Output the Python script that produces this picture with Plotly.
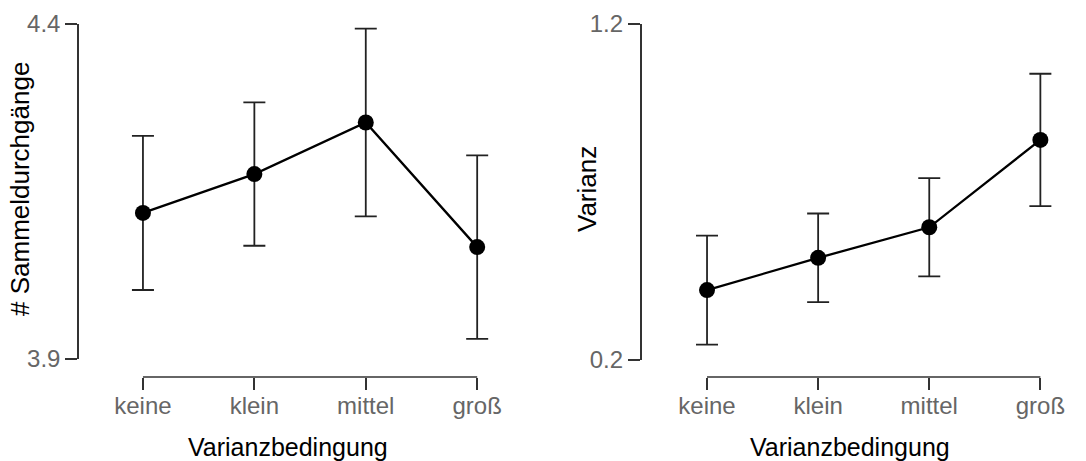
import plotly.graph_objects as go

categories = ["keine", "klein", "mittel", "groß"]
sammel_mean = [4.118, 4.176, 4.253, 4.067]
sammel_err = [0.115, 0.107, 0.140, 0.137]
varianz_mean = [0.408, 0.504, 0.595, 0.855]
varianz_err = [0.162, 0.132, 0.146, 0.197]
sammel_ticks = [3.9, 4.4]
varianz_ticks = [0.2, 1.2]
x_title = "Varianzbedingung"
y_titles = ["# Sammeldurchgänge", "Varianz"]

W, H = 1086, 461
AX = "#333333"
TICKC = "#666666"
FONT = "Liberation Sans, Arial, sans-serif"

fig = go.Figure()

panels = [
    dict(mean=sammel_mean, err=sammel_err, ticks=sammel_ticks, ytitle=y_titles[0],
         xdom=[78 / W, 510.6 / W], xr=[-0.583, 3.3], ydom=[1 - 359 / H, 1 - 24 / H],
         ytx=20, xtx=288),
    dict(mean=varianz_mean, err=varianz_err, ticks=varianz_ticks, ytitle=y_titles[1],
         xdom=[640.7 / W, 1073.7 / W], xr=[-0.597, 3.3], ydom=[1 - 360 / H, 1 - 24 / H],
         ytx=587, xtx=850),
]

xpos = 1 - 377 / H

for i, p in enumerate(panels):
    sfx = "" if i == 0 else str(i + 1)
    fig.add_trace(go.Scatter(
        x=categories, y=p["mean"], mode="lines+markers",
        xaxis="x" + sfx, yaxis="y" + sfx,
        line=dict(color="black", width=2.3),
        marker=dict(color="black", size=16),
        error_y=dict(type="data", array=p["err"], visible=True,
                     color="#222222", thickness=1.8, width=11),
        cliponaxis=False, showlegend=False,
    ))
    fig.update_layout(**{
        "xaxis" + sfx: dict(
            domain=p["xdom"], range=p["xr"], type="category",
            anchor="free", position=xpos, automargin=False,
            showline=False, showgrid=False, zeroline=False,
            ticks="outside", ticklen=12, tickwidth=1.5, tickcolor=AX,
            ticklabelstandoff=-5,
            tickfont=dict(family=FONT, size=24, color=TICKC),
        ),
        "yaxis" + sfx: dict(
            domain=p["ydom"], range=[p["ticks"][0], p["ticks"][-1]],
            anchor="free", position=p["xdom"][0], automargin=False,
            showline=True, linecolor=AX, linewidth=1.5,
            showgrid=False, zeroline=False,
            tickvals=p["ticks"], ticktext=[f"{v:.1f}" for v in p["ticks"]],
            ticks="outside", ticklen=12, tickwidth=1.5, tickcolor=AX,
            tickfont=dict(family=FONT, size=24, color=TICKC),
        ),
    })
    fig.add_shape(type="line", xref="x" + sfx, yref="paper",
                  x0=categories[0], x1=categories[-1], y0=xpos, y1=xpos,
                  line=dict(color=AX, width=1.5))
    # axis titles
    fig.add_annotation(text=p["ytitle"], xref="paper", yref="paper",
                       x=p["ytx"] / W, y=1 - 189 / H, textangle=-90,
                       xanchor="center", yanchor="middle", showarrow=False,
                       font=dict(family=FONT, size=26, color="black"))
    fig.add_annotation(text=x_title, xref="paper", yref="paper",
                       x=p["xtx"] / W, y=1 - 447 / H,
                       xanchor="center", yanchor="middle", showarrow=False,
                       font=dict(family=FONT, size=25, color="black"))

fig.update_layout(
    width=W, height=H,
    margin=dict(l=0, r=0, t=0, b=0),
    paper_bgcolor="white", plot_bgcolor="white",
    font=dict(family=FONT),
)

fig.write_html("out.html", config={"displayModeBar": False},
               post_script="document.body.style.margin='0';")
